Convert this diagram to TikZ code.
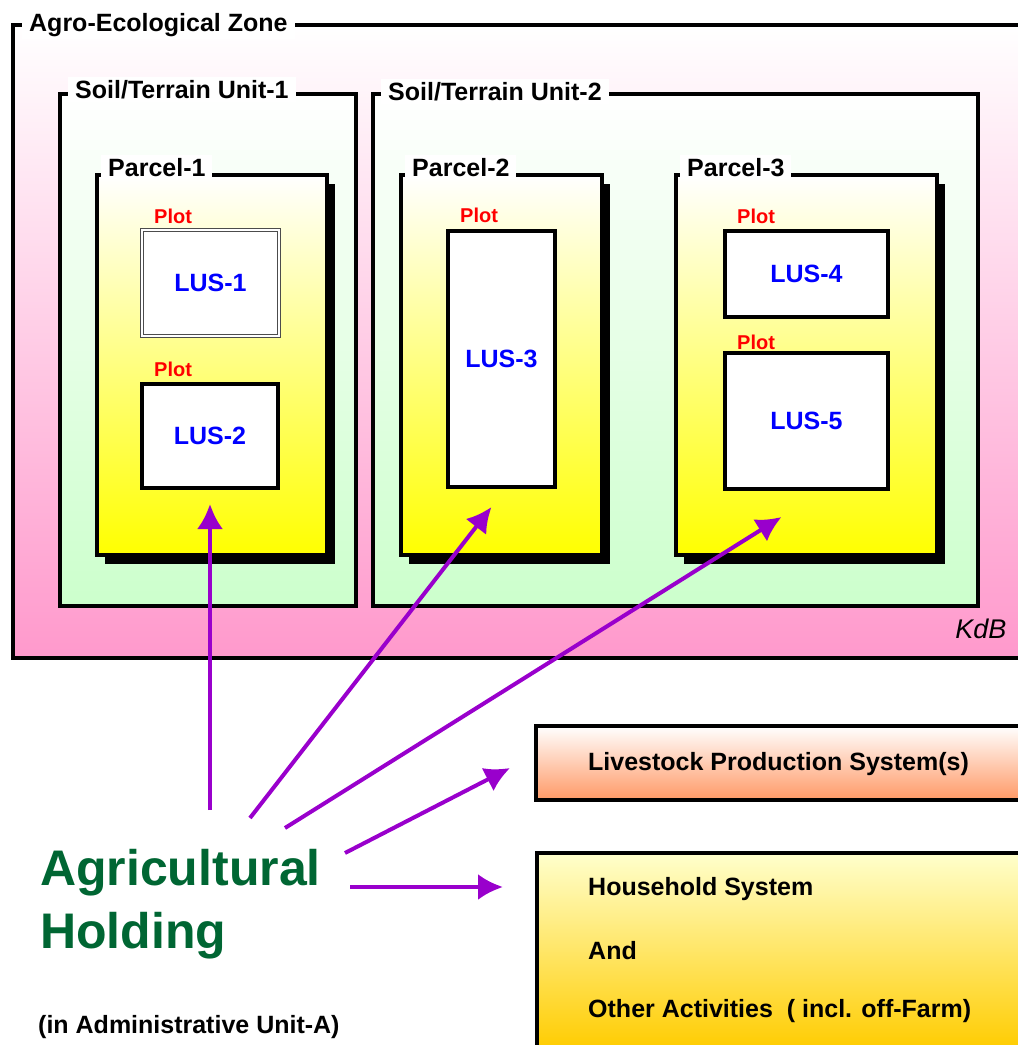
\documentclass[tikz,border=0pt]{standalone}
\usepackage{fontspec}
\setmainfont{Liberation Sans}
\usetikzlibrary{positioning,calc,arrows.meta,shadows}
\definecolor{zonepink}{HTML}{FF99CC}
\definecolor{unitgreen}{HTML}{CCFFCC}
\definecolor{linkpurple}{HTML}{9900CC}
\definecolor{holdgreen}{HTML}{006633}
\definecolor{stocksalmon}{HTML}{FF9966}
\definecolor{housegold}{HTML}{FFCC00}

\begin{document}
\begin{tikzpicture}[x=1pt, y=-1pt,
    every node/.style={font=\fontsize{25}{30}\selectfont\bfseries},
    frame/.style={draw, line width=4pt, anchor=north west, inner sep=0pt, outer sep=0pt},
    zone/.style={frame, top color=white, bottom color=zonepink},
    unit/.style={frame, top color=white, bottom color=unitgreen},
    parcel/.style={frame, top color=white, bottom color=yellow,
      drop shadow={shadow xshift=8pt, shadow yshift=-9pt, fill=black, opacity=1}},
    lus/.style={frame, fill=white, text=blue},
    title/.style={fill=white, inner xsep=7pt, inner ysep=3pt, anchor=base west},
    plotlabel/.style={font=\fontsize{20}{24}\selectfont\bfseries, text=red, inner sep=0pt, anchor=base west},
    link/.style={draw=linkpurple, line width=4pt, -{Latex[length=25pt, width=26pt]}}]
        \useasboundingbox (0,0) rectangle (1018,1045);
        \clip (0,0) rectangle (1018,1045);

        \node[zone, minimum width=1027, minimum height=633] (aez) at (13,25) {};
        \node[title] at ($(aez.north west)+(9,6)$) {Agro-Ecological Zone};

        \node[unit, minimum width=296, minimum height=512] (unit1) at (60,94) {};
        \node[unit, minimum width=605, minimum height=512] (unit2) at (373,94) {};
        \node[title] at ($(unit1.north west)+(8,4)$) {Soil/Terrain Unit-1};
        \node[title] at ($(unit2.north west)+(8,6)$) {Soil/Terrain Unit-2};

        \node[parcel, minimum width=230, minimum height=380] (parcel1) at (97,175) {};
        \node[parcel, minimum width=201, minimum height=380] (parcel2) at (401,175) {};
        \node[parcel, minimum width=261, minimum height=380] (parcel3) at (676,175) {};
        \foreach \p/\t in {parcel1/Parcel-1, parcel2/Parcel-2, parcel3/Parcel-3}
          \node[title] at ($(\p.north west)+(4,1)$) {\t};

        \node[lus, draw=black!70, double=white, double distance=1.5pt, line width=1pt,
              minimum width=137, minimum height=106] (lus1) at (142,230) {LUS-1};
        \node[lus, minimum width=136, minimum height=104] (lus2) at (142,384) {LUS-2};
        \node[lus, minimum width=107, minimum height=256] (lus3) at (448,231) {LUS-3};
        \node[lus, minimum width=163, minimum height=86] (lus4) at (725,231) {LUS-4};
        \node[lus, minimum width=163, minimum height=136] (lus5) at (725,353) {LUS-5};
        \foreach \p/\dy in {lus1/-7, lus2/-8, lus3/-9, lus4/-8, lus5/-4}
          \node[plotlabel] at ($(\p.north west)+(12,\dy)$) {Plot};

        \node[font=\fontsize{27}{30}\selectfont\itshape, anchor=base east] (kdb) at (1010,638) {KdB};

        \node[frame, top color=white, bottom color=stocksalmon, minimum width=504, minimum height=74] (livestock) at (536,726) {};
        \node[anchor=base west, inner sep=0pt] at ($(livestock.north west)+(52,44)$) {Livestock Production System(s)};

        \node[frame, top color=white!80!yellow, bottom color=housegold, minimum width=503, minimum height=197] (household) at (537,853) {};
        \node[anchor=base west, inner sep=0pt] at ($(household.north west)+(51,42)$) {Household System};
        \node[anchor=base west, inner sep=0pt] at ($(household.north west)+(51,106)$) {And};
        \node[anchor=base west, inner sep=0pt] at ($(household.north west)+(51,164)$) {Other Activities\ \ ( incl. off-Farm)};

        \node[font=\fontsize{50}{63}\selectfont\bfseries, text=holdgreen, align=left, anchor=base west, inner sep=0pt]
          (holding) at (40,948) {Agricultural\\Holding};
        \node[anchor=base west, inner sep=0pt] (admin) at (38,1033) {(in Administrative Unit-A)};

        \coordinate (from1) at (210,810);
        \coordinate (from2) at (250,818);
        \coordinate (from3) at (285,828);
        \coordinate (from4) at (345,853);
        \coordinate (from5) at (350,887);
        \coordinate[below=16pt of lus2] (to1);
        \coordinate[below=20pt of lus3, xshift=-10pt] (to2);
        \coordinate[below=28pt of lus5, xshift=-25pt] (to3);
        \coordinate[left=26pt of livestock, yshift=-5pt] (to4);
        \coordinate[left=34pt of household.north west, yshift=-34pt] (to5);
        \foreach \i in {1,...,5}
          \draw[link] (from\i) -- (to\i);
      \end{tikzpicture}
\end{document}
